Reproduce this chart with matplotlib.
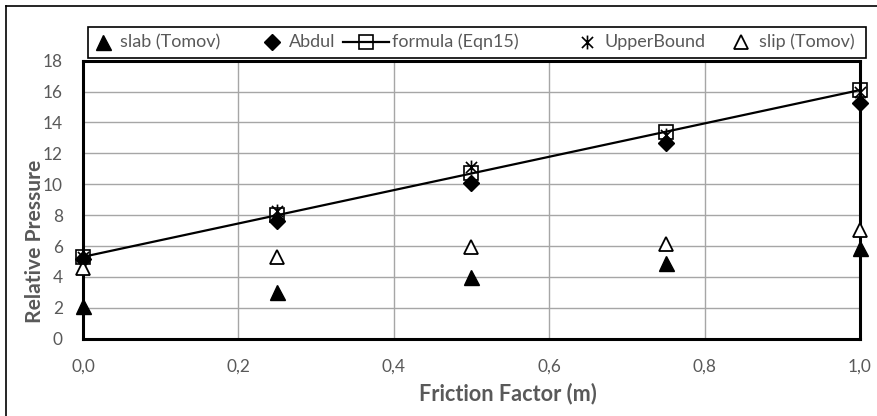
import matplotlib
matplotlib.use("Agg")
import matplotlib.pyplot as plt
from matplotlib.path import Path
from matplotlib.lines import Line2D
from matplotlib.patches import Rectangle
from matplotlib.ticker import FuncFormatter, MultipleLocator

plt.rcParams['font.family'] = ['Lato', 'DejaVu Sans']

# Friction factor values and relative pressure for each method
friction = [0.0, 0.25, 0.5, 0.75, 1.0]
slab_tomov = [2.1, 3.0, 4.0, 4.9, 5.85]
abdul = [5.15, 7.6, 10.1, 12.65, 15.25]
formula_eqn15 = [5.3, 8.0, 10.7, 13.4, 16.1]
upper_bound = [5.3, 8.3, 11.1, 13.2, 16.0]
slip_tomov = [4.6, 5.3, 5.95, 6.1, 7.05]

series_labels = ["slab (Tomov)", "Abdul", "formula (Eqn15)", "UpperBound", "slip (Tomov)"]

# star marker: vertical stroke plus an X
star = Path([(0, -1), (0, 1), (-0.8, -0.8), (0.8, 0.8), (-0.8, 0.8), (0.8, -0.8)],
            [Path.MOVETO, Path.LINETO, Path.MOVETO, Path.LINETO, Path.MOVETO, Path.LINETO])

styles = {
    "slab (Tomov)": dict(linestyle='none', marker='^', markersize=10.8, color='black'),
    "Abdul": dict(linestyle='none', marker='D', markersize=7.8, color='black'),
    "formula (Eqn15)": dict(linestyle='-', linewidth=1.6, color='black', marker='s',
                            markersize=10, markerfacecolor='none',
                            markeredgecolor='black', markeredgewidth=1.2),
    "UpperBound": dict(linestyle='none', marker=star, markersize=10,
                       markerfacecolor='none', markeredgecolor='black',
                       markeredgewidth=1.2),
    "slip (Tomov)": dict(linestyle='none', marker='^', markersize=10.5,
                         markerfacecolor='white', markeredgecolor='black',
                         markeredgewidth=1.3),
}
series_values = [slab_tomov, abdul, formula_eqn15, upper_bound, slip_tomov]
zorders = [5, 5, 6, 7, 5]

W, H = 878, 416
fig = plt.figure(figsize=(W / 100, H / 100), dpi=100)
renderer = fig.canvas.get_renderer()


def fitted_size(text, target_px, base=12.0, weight='normal'):
    """Font size at which `text` spans target_px pixels horizontally."""
    t = fig.text(0, 0, text, fontsize=base, fontweight=weight)
    bb = t.get_window_extent(renderer)
    t.remove()
    return base * target_px / bb.width


tick_fs = fitted_size("18", 20)
legend_fs = fitted_size("slab (Tomov)", 100)
xlabel_fs = fitted_size("Friction Factor (m)", 176, weight='bold')
ylabel_fs = fitted_size("Relative Pressure", 162, weight='bold')

ax = fig.add_axes([83 / W, 1 - 338.7 / H, (860 - 83) / W, (338.7 - 60.7) / H])

grey = '#595959'
for lab, vals, z in zip(series_labels, series_values, zorders):
    ax.plot(friction, vals, label=lab, zorder=z, clip_on=False, **styles[lab])

ax.set_xlim(0, 1.0)
ax.set_ylim(0, 18)
ax.xaxis.set_major_locator(MultipleLocator(0.2))
ax.yaxis.set_major_locator(MultipleLocator(2))
ax.xaxis.set_major_formatter(FuncFormatter(lambda v, p: f"{v:.1f}".replace('.', ',')))
ax.yaxis.set_major_formatter(FuncFormatter(lambda v, p: f"{v:.0f}"))
ax.grid(True, color='#a6a6a6', linewidth=1.0)
ax.set_axisbelow(True)
ax.tick_params(length=0, labelsize=tick_fs, labelcolor=grey)
ax.tick_params(axis='y', pad=20 * 0.72)
ax.tick_params(axis='x', pad=20 * 0.72)
for s in ax.spines.values():
    s.set_linewidth(2.2)
    s.set_color('black')

# axis titles
fig.text(508 / W, 1 - 394 / H, "Friction Factor (m)", fontsize=xlabel_fs,
         fontweight='bold', color=grey, ha='center', va='center')
fig.text(35 / W, 1 - 241 / H, "Relative Pressure", fontsize=ylabel_fs,
         fontweight='bold', color=grey, ha='center', va='center', rotation=90)

# legend box across the top
fig.add_artist(Rectangle((88 / W, 1 - 58 / H), (866 - 88) / W, 31 / H,
                         transform=fig.transFigure, facecolor='white',
                         edgecolor='black', linewidth=1.2, zorder=10))
ly = 1 - 42 / H
marker_x = [103, 272, 366, 587, 741]
text_x = [120, 289, 392, 605, 759]
for lab, mx, tx in zip(series_labels, marker_x, text_x):
    st = dict(styles[lab])
    if lab == "formula (Eqn15)":
        fig.add_artist(Line2D([(mx - 23) / W, (mx + 23) / W], [ly, ly],
                              transform=fig.transFigure, color='black',
                              linewidth=1.6, zorder=11))
        st['linestyle'] = 'none'
    fig.add_artist(Line2D([mx / W], [ly], transform=fig.transFigure, zorder=12, **st))
    fig.text(tx / W, ly, lab, fontsize=legend_fs, color=grey, va='center', ha='left',
             zorder=12)

# outer border along top and left edges
fig.add_artist(Line2D([6 / W, 6 / W], [0, 1 - 6 / H], transform=fig.transFigure,
                      color='black', linewidth=1.2))
fig.add_artist(Line2D([6 / W, 1], [1 - 6 / H, 1 - 6 / H], transform=fig.transFigure,
                      color='black', linewidth=1.2))

fig.savefig("out.png", dpi=100)
